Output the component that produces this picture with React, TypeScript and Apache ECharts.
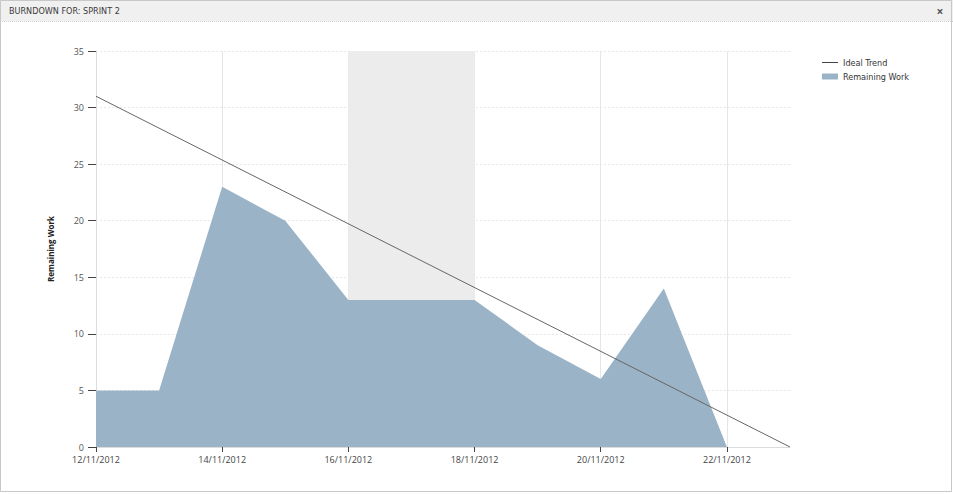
import React, { useEffect, useRef } from "react";
import * as echarts from "echarts";

const dates = [
  "12/11/2012", "13/11/2012", "14/11/2012", "15/11/2012", "16/11/2012", "17/11/2012",
  "18/11/2012", "19/11/2012", "20/11/2012", "21/11/2012", "22/11/2012", "23/11/2012",
];
const remainingWork: (number | null)[] = [5, 5, 23, 20, 13, 13, 13, 9, 6, 14, 0, null];
const idealTrend: (number | null)[] = [31, null, null, null, null, null, null, null, null, null, null, 0];
const weekendStart = "16/11/2012";
const weekendEnd = "18/11/2012";
const titleText = "BURNDOWN FOR: SPRINT 2";
const yAxisName = "Remaining Work";

export default function App() {
  const ref = useRef<HTMLDivElement>(null);
  useEffect(() => {
    if (!ref.current) return;
    const chart = echarts.init(ref.current, null, { renderer: "svg" });
    const font = "Open Sans";
    const narrow = '"Liberation Sans Narrow", "DejaVu Sans Condensed", sans-serif';
    chart.setOption({
      animation: false,
      backgroundColor: "#ffffff",
      textStyle: { fontFamily: font },
      graphic: [
        { type: "rect", z: -10, shape: { x: 0, y: 0, width: 953, height: 21 }, style: { fill: "#f0f0f0" } },
        { type: "line", shape: { x1: 0, y1: 21.5, x2: 953, y2: 21.5 }, style: { stroke: "#d0d0d0", lineWidth: 1, lineDash: [1, 1] } },
        { type: "text", x: 9, y: 11, style: { text: titleText, fill: "#3a3a3a", font: `9px ${narrow}`, textVerticalAlign: "middle" } },
        { type: "text", x: 940, y: 11, style: { text: "×", fill: "#555", font: `bold 12px "${font}"`, textAlign: "center", textVerticalAlign: "middle" } },
        { type: "rect", shape: { x: 0.5, y: 0.5, width: 951, height: 491 }, style: { fill: "none", stroke: "#c8c8c8", lineWidth: 1 } },
      ],
      legend: {
        orient: "vertical",
        left: 822,
        top: 58,
        padding: 0,
        itemWidth: 16,
        itemHeight: 6,
        itemGap: 5,
        selectedMode: false,
        textStyle: { fontSize: 9, color: "#333", fontFamily: narrow },
        data: [
          { name: "Ideal Trend", icon: "path://M0,2.5 L16,2.5 L16,3.5 L0,3.5 Z", itemStyle: { color: "#444" } },
          { name: "Remaining Work", icon: "rect" },
        ],
      },
      grid: { left: 96, right: 163, top: 51, bottom: 47 },
      xAxis: {
        type: "category",
        data: dates,
        boundaryGap: false,
        axisLine: { lineStyle: { color: "#dcdcdc" } },
        axisTick: { interval: 1, length: 5, lineStyle: { color: "#444" } },
        axisLabel: { interval: 1, color: "#444", fontSize: 9, margin: 8, fontFamily: font },
        splitLine: { show: true, interval: 1, lineStyle: { color: "#e6e6e6" } },
      },
      yAxis: {
        type: "value",
        min: 0,
        max: 35,
        interval: 5,
        name: yAxisName,
        nameLocation: "middle",
        nameGap: 42,
        nameTextStyle: { fontWeight: "bold", fontSize: 8, color: "#222", fontFamily: font },
        axisLine: { show: true, lineStyle: { color: "#dcdcdc" } },
        axisTick: { show: true, length: 8, lineStyle: { color: "#444" } },
        axisLabel: { color: "#555", fontSize: 9, margin: 12, fontFamily: font },
        splitLine: { show: true, lineStyle: { color: "#e8e8e8", type: [2, 2] } },
      },
      series: [
        {
          name: "weekend",
          type: "line",
          data: [],
          z: 1,
          silent: true,
          markArea: {
            silent: true,
            itemStyle: { color: "#ececec" },
            data: [[{ xAxis: weekendStart }, { xAxis: weekendEnd }]],
          },
        },
        {
          name: "Remaining Work",
          type: "line",
          data: remainingWork,
          z: 3,
          symbol: "none",
          lineStyle: { width: 0, color: "#9bb3c7" },
          itemStyle: { color: "#9bb3c7" },
          areaStyle: { color: "#9bb3c7", opacity: 1 },
        },
        {
          name: "Ideal Trend",
          type: "line",
          data: idealTrend,
          connectNulls: true,
          z: 4,
          symbol: "none",
          lineStyle: { width: 1, color: "#666" },
          itemStyle: { color: "#444" },
        },
      ],
    });
    return () => chart.dispose();
  }, []);
  return (
    <div
      ref={ref}
      style={{ position: "absolute", left: 0, top: 0, width: 953, height: 494 }}
    />
  );
}
